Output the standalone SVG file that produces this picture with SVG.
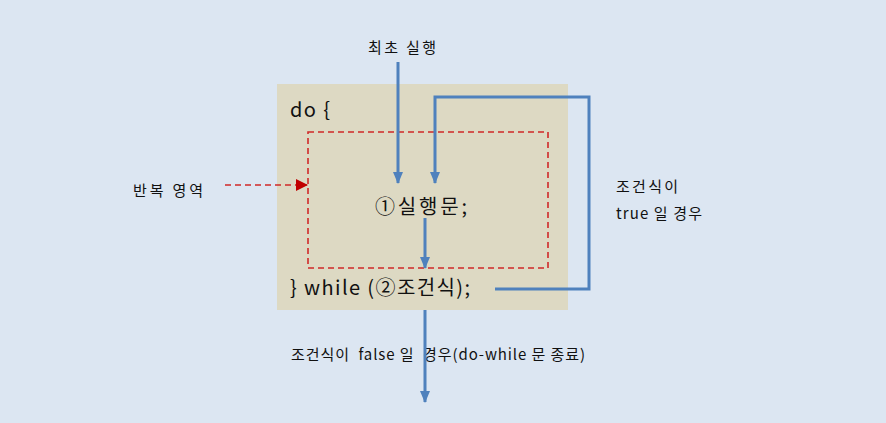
<svg xmlns="http://www.w3.org/2000/svg" width="886" height="423" viewBox="0 0 886 423">
<defs>
<style>
.t{font-family:"Noto Sans CJK KR","Noto Sans",sans-serif;fill:#111}
.s{font-size:15px}
.b{font-size:20px}
.flow{fill:none;stroke:#4f81bd;stroke-width:3}
.red{fill:none;stroke:#d02828;stroke-width:1.6;stroke-dasharray:6 4}
</style>
<marker id="ab" markerWidth="12" markerHeight="10" refX="11" refY="5" orient="auto" markerUnits="userSpaceOnUse"><path d="M0,0 L12,5 L0,10 Z" fill="#4f81bd"/></marker>
<marker id="ar" markerWidth="12" markerHeight="12" refX="11" refY="6" orient="auto" markerUnits="userSpaceOnUse"><path d="M0,0 L12,6 L0,12 Z" fill="#c00000"/></marker>
</defs>
<rect width="886" height="423" fill="#dce6f2"/>
<g id="block">
<rect x="277" y="84" width="291" height="226" fill="#ddd9c3"/>
<text class="t b" x="290" y="117" textLength="40" lengthAdjust="spacing">do {</text>
<text class="t b" x="290" y="295" textLength="180" lengthAdjust="spacing">} while (②조건식);</text>
</g>
<g id="region">
<rect class="red" x="308" y="132" width="240" height="136"/>
<text class="t b" x="375" y="214" textLength="92" lengthAdjust="spacing">①실행문;</text>
</g>
<g id="labels">
<text class="t s" x="368" y="53" textLength="68" lengthAdjust="spacing">최초 실행</text>
<text class="t s" x="133" y="196" textLength="70" lengthAdjust="spacing">반복 영역</text>
<text class="t s" x="616" y="192" textLength="62" lengthAdjust="spacing">조건식이</text>
<text class="t s" x="616" y="219" textLength="86" lengthAdjust="spacing">true 일 경우</text>
<text class="t s" x="291" y="360" textLength="294" lengthAdjust="spacing" style="white-space:pre">조건식이  false 일  경우(do-while 문 종료)</text>
</g>
<g id="connectors">
<line class="flow" x1="398" y1="62" x2="398" y2="183" marker-end="url(#ab)"/>
<polyline class="flow" points="495,289 589,289 589,97 435,97 435,183" marker-end="url(#ab)"/>
<line class="flow" x1="425" y1="218" x2="425" y2="268" marker-end="url(#ab)"/>
<line class="flow" x1="425" y1="310" x2="425" y2="402" marker-end="url(#ab)"/>
<line class="red" x1="225" y1="185" x2="307" y2="185" marker-end="url(#ar)"/>
</g>
</svg>
